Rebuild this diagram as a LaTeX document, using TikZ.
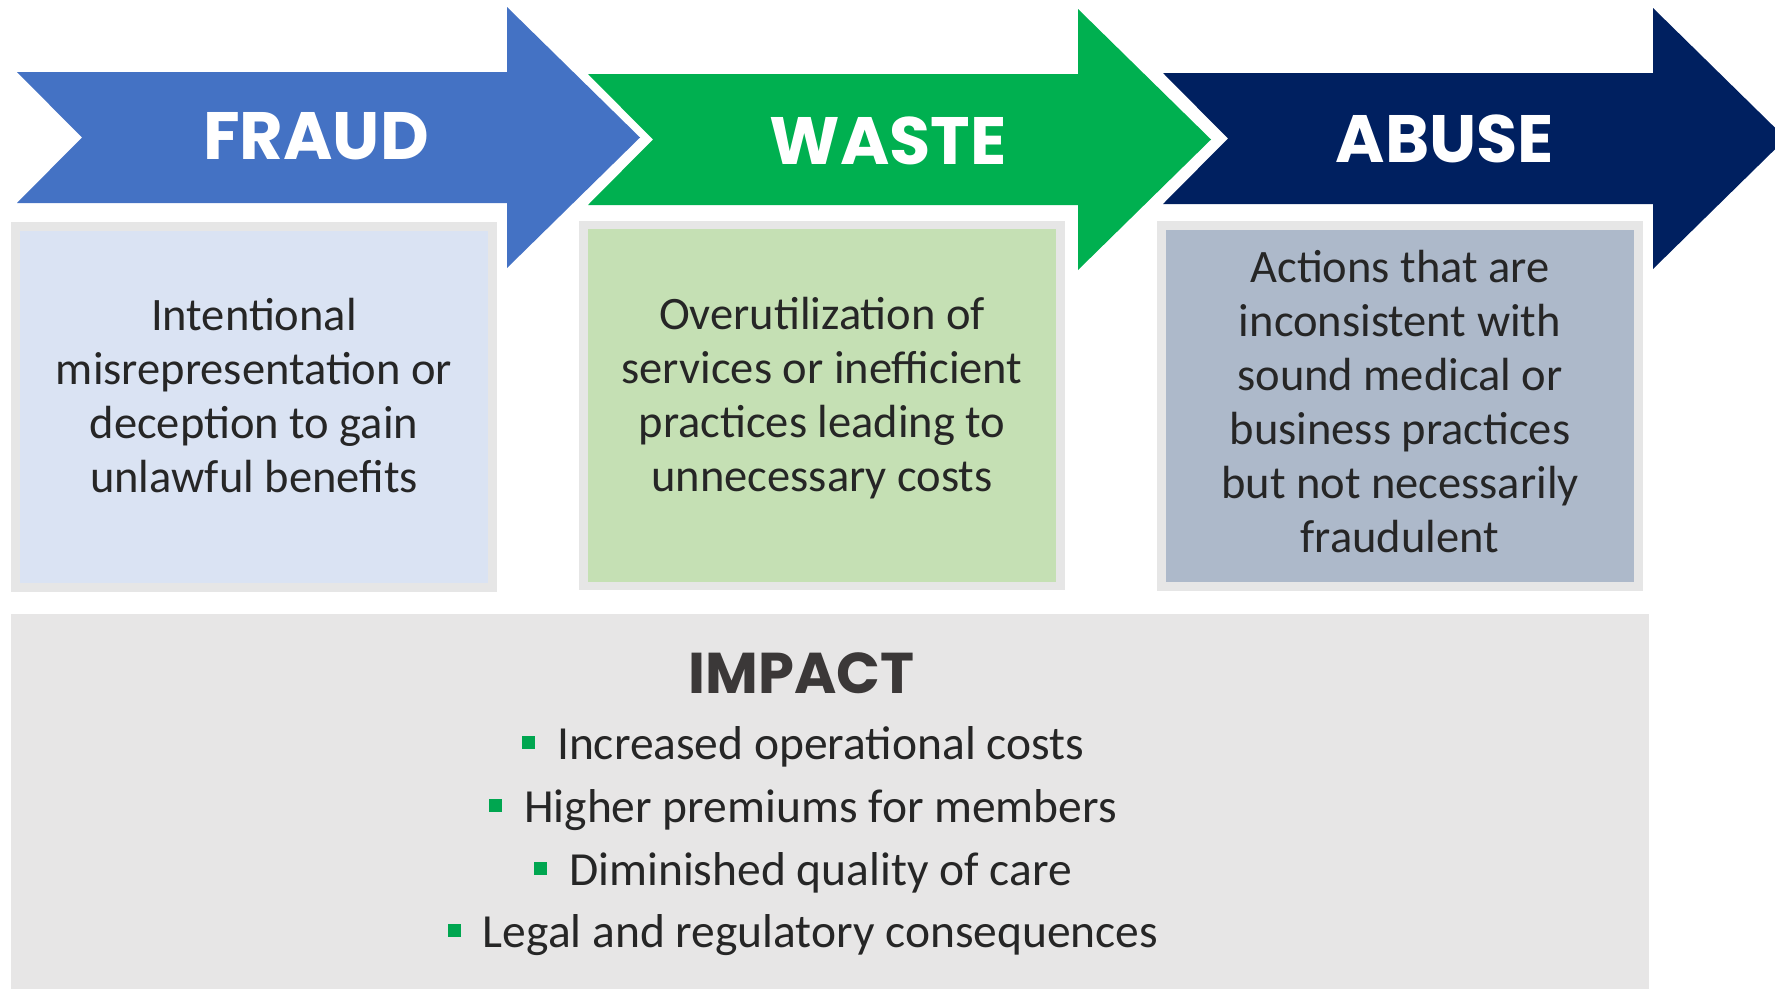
\documentclass[tikz,border=0pt]{standalone}
\usepackage{fontspec}
\setmainfont{Carlito}
\newfontfamily\headfont{Poppins}

\definecolor{fraudblue}{HTML}{4472C4}
\definecolor{wastegreen}{HTML}{00B050}
\definecolor{abusenavy}{HTML}{002060}
\definecolor{fraudfill}{HTML}{DAE3F3}
\definecolor{wastefill}{HTML}{C5E0B4}
\definecolor{abusefill}{HTML}{ADB9CA}
\definecolor{framegray}{HTML}{E6E6E6}
\definecolor{impactgray}{HTML}{E7E6E6}
\definecolor{textdark}{HTML}{262626}
\definecolor{titledark}{HTML}{3B3838}
\definecolor{bulletgreen}{HTML}{00A650}

\newcommand\impactmark{\textcolor{bulletgreen}{\rule[10pt]{13pt}{13pt}}\hspace{22pt}}

\begin{document}
\begin{tikzpicture}[x=1pt,y=-1pt,
  arrowlabel/.style={anchor=base, inner sep=0pt, text=white,
    font=\headfont\bfseries\fontsize{67}{80}\selectfont},
  descbox/.style={draw=framegray, line width=8.5pt, minimum width=477pt,
    minimum height=361pt, inner sep=0pt},
  desctext/.style={anchor=base, inner sep=0pt, text=textdark,
    font=\fontsize{46.5}{54}\selectfont},
  impacttitle/.style={anchor=base, inner sep=0pt, text=titledark,
    font=\headfont\bfseries\fontsize{57.5}{68}\selectfont},
  impactline/.style={anchor=base, inner sep=0pt, text=textdark,
    font=\fontsize{47.5}{63}\selectfont}]

\useasboundingbox (0,0) rectangle (1775,988);
\clip (0,0) rectangle (1775,988);

% chevron arrows: tail x, vertical shift, colour
\foreach \x/\d/\c in {17/0/fraudblue, 588/2/wastegreen, 1163/1/abusenavy}{
  \fill[\c] (\x,{72+\d}) -- ({\x+490},{72+\d}) -- ({\x+490},{7+\d})
    -- ({\x+623},{137.5+\d}) -- ({\x+490},{268+\d}) -- ({\x+490},{203+\d})
    -- (\x,{203+\d}) -- ({\x+65},{137.5+\d}) -- cycle;
}
\node[arrowlabel] (fraudlbl) at (316,159) {FRAUD};
\node[arrowlabel] (wastelbl) at (888,164) {WASTE};
\node[arrowlabel] (abuselbl) at (1445,162) {ABUSE};

% description boxes
\node[descbox, fill=fraudfill] (fraudbox) at (254,407) {};
\node[descbox, fill=wastefill] (wastebox) at (822,405.5) {};
\node[descbox, fill=abusefill] (abusebox) at (1400,406) {};

\node[desctext] (fraudtxt) at (254,330) {\parbox[t]{470pt}{\centering
  Intentional\\ misrepresentation or\\ deception to gain\\ unlawful benefits}};
\node[desctext] (wastetxt) at (822,329) {\parbox[t]{470pt}{\centering
  Overutilization of\\ services or inefficient\\ practices leading to\\ unnecessary costs}};
\node[desctext] (abusetxt) at (1400,282) {\parbox[t]{470pt}{\centering
  Actions that are\\ inconsistent with\\ sound medical or\\ business practices\\
  but not necessarily\\ fraudulent}};

% impact panel
\node[fill=impactgray, anchor=north west, minimum width=1638pt,
  minimum height=380pt, inner sep=0pt] (impactbox) at (11,614) {};
\node[impacttitle] (impacthead) at (801.5,693) {IMPACT};
\node[impactline] (imp1) at (803,759) {\impactmark Increased operational costs};
\node[impactline] (imp2) at (803,822) {\impactmark Higher premiums for members};
\node[impactline] (imp3) at (803,885) {\impactmark Diminished quality of care};
\node[impactline] (imp4) at (803,947) {\impactmark Legal and regulatory consequences};

\end{tikzpicture}
\end{document}
